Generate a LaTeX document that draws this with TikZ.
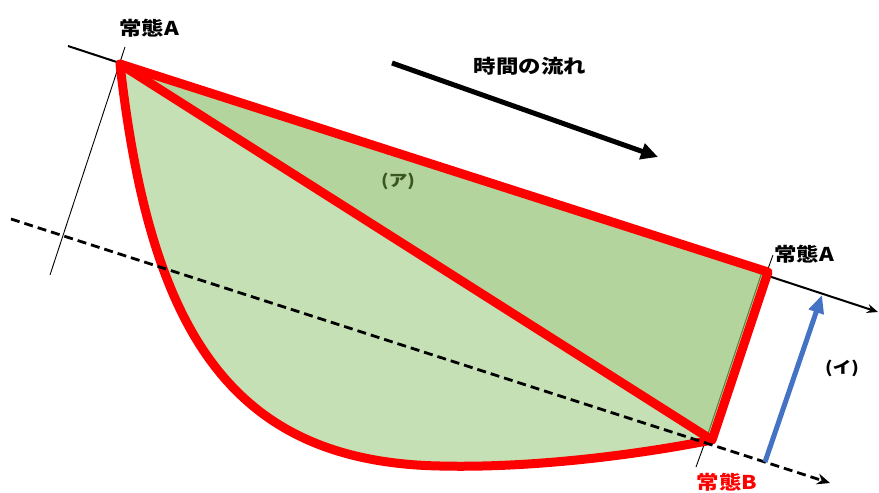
\documentclass[tikz,border=0pt]{standalone}
\usepackage{fontspec}
\newfontfamily\jpfont{Noto Sans CJK JP}[FakeStretch=1.18]
\usetikzlibrary{arrows.meta}
\definecolor{akasen}{RGB}{255,0,0}
\definecolor{usumidori}{RGB}{197,224,180}
\definecolor{komidori}{RGB}{180,212,158}
\definecolor{fuchimidori}{RGB}{84,130,53}
\definecolor{moji}{RGB}{56,87,35}
\definecolor{aoya}{RGB}{68,114,196}
\tikzset{
  label/.style={inner sep=0pt, font=\jpfont\bfseries\fontsize{19}{19}\selectfont},
  kakko/.style={inner sep=0pt, font=\jpfont\bfseries\fontsize{16}{16}\selectfont},
  akawaku/.style={draw=akasen, line width=9pt, line join=round},
  hososen/.style={draw=black, line width=0.9pt},
}
\begin{document}
\begin{tikzpicture}[x=1pt, y=-1pt, line cap=butt]
	\useasboundingbox (0,0) rectangle (879,493);
	% vertices of the region
	\coordinate (A1) at (120,64);
	\coordinate (A2) at (768,272);
	\coordinate (B) at (712,440);
	\coordinate (Bot) at (440,466);
	% ends of the lines
	\coordinate (L0) at (68,46);
	\coordinate (L1) at (878,312);
	\coordinate (D0) at (11,219);
	\coordinate (D1) at (830,483);
	\coordinate (T0) at (125,47);
	\coordinate (T1) at (50,275);
	\coordinate (U0) at (773,255);
	\coordinate (U1) at (696,467);
	\coordinate (F0) at (392,63);
	\coordinate (F1) at (658,157);
	\coordinate (I0) at (765,462);
	\coordinate (I1) at (822,295);
	% lines under the region
	\draw[line width=2pt, -{Stealth[length=11pt,width=9pt]}] (L0) -- (L1);
	\draw[hososen] (T0) -- (T1) (U0) -- (U1);
	% region
	\fill[usumidori] (A1) -- (A2) -- (B) .. controls (620,458) and (520,468) .. (Bot)
		.. controls (230,462) and (150,330) .. (A1) -- cycle;
	\filldraw[fill=komidori, draw=fuchimidori, line width=1pt] (A1) -- ([xshift=-6pt]A2) -- ([xshift=-6pt]B) -- cycle;
	\draw[akawaku] (A1) -- (A2) -- (B) .. controls (620,458) and (520,468) .. (Bot)
		.. controls (230,462) and (150,330) .. (A1) -- cycle;
	\draw[akawaku] (A1) -- (B);
	% lines over the region
	\draw[line width=2.8pt, dash pattern=on 9pt off 5pt, -{Stealth[length=13pt,width=11pt]}] (D0) -- (D1);
	\draw[line width=5pt, -{Triangle[length=17pt,width=16pt]}] (F0) -- (F1);
	\draw[aoya, line width=5pt, -{Triangle[length=18pt,width=15pt]}] (I0) -- (I1);
	% texts
	\node[label] (jotaiA1) at (149,28) {常態A};
	\node[label] (jotaiA2) at (804,254) {常態A};
	\node[label, text=akasen] (jotaiB) at (727,482) {常態B};
	\node[label] (nagare) at (530,66) {時間の流れ};
	\node[kakko, text=moji] (ka) at (398,181) {(ア)};
	\node[kakko] (ki) at (842,368) {(イ)};
\end{tikzpicture}
\end{document}
